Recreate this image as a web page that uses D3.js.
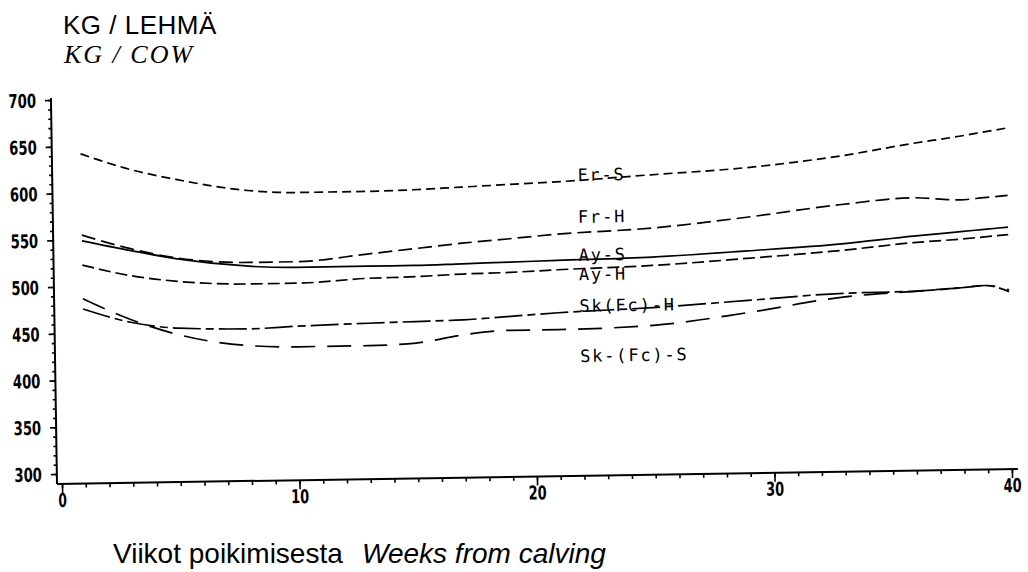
<!DOCTYPE html>
<html><head><meta charset="utf-8">
<script src="https://cdn.jsdelivr.net/npm/d3@7"></script>
<style>body{margin:0;background:#fff} svg{display:block}</style>
</head><body>
<svg id="c" width="1028" height="572"></svg>
<script>
// ---- data ----
const weeks = [1,3,5,8,10,13,15,17,19,21,25,29,33,36,38,39,40];
const frS = [642,625,613,600,597,597,598,600,602,604,610,616,627,639,646,650,654];
const frH = [555,540,529,523,523,530,535,540,544,548,553,563,575,581,578,580,582];
const ayS = [549,538,528,519,517,517,517,518,519,520,522,527,533,540,544,546,548];
const ayH = [523,511,504,500,500,504,505,507,508,510,513,519,526,533,536,538,540];
const skH = [476,461,454,452,454,456,457,458,461,464,468,474,480,481,484,486,479];
const skS = [487,464,447,434,432,432,434,442,446,446,449,461,476,481,484,486,481];
const seriesNames = ["Fr-S","Fr-H","Ay-S","Ay-H","Sk(Fc)-H","Sk-(Fc)-S"];
const yTickValues = [300,350,400,450,500,550,600,650,700];
const xTickValues = [0,10,20,30,40];
const labelWeek = 21.9;
const labelValues = [604.7,559.8,519.1,498.3,464.6,411.1];

// ---- layout / style ----
const series = [frS,frH,ayS,ayH,skH,skS];
const dashes = ["9,5","14,6",null,"12,5","28,5,8,5","24,12"];
const axisX0 = 57, axisY0 = 484;

const svg = d3.select("#c");
const x = d3.scaleLinear().domain([0,40]).range([62,1012]);
const y = d3.scaleLinear().domain([300,700]).range([474,100]);

const g = svg.append("g").attr("transform", `rotate(-0.9,${axisX0},${axisY0})`);

// axis lines
g.append("line").attr("x1",axisX0).attr("x2",axisX0).attr("y1",y(700)-2).attr("y2",axisY0)
  .attr("stroke","#000").attr("stroke-width",2);
g.append("line").attr("x1",axisX0).attr("x2",1018).attr("y1",axisY0).attr("y2",axisY0)
  .attr("stroke","#000").attr("stroke-width",2);

const tickFont = (sel) => sel.attr("font-family","'DejaVu Sans Condensed','DejaVu Sans',sans-serif")
  .attr("font-weight","bold").attr("font-size",19).attr("fill","#000")
  .attr("lengthAdjust","spacingAndGlyphs")
  .attr("textLength", function(){ return this.textContent.length * 9.5 - 1; });

// y axis minor + major
const yMinor = g.append("g").attr("transform",`translate(${axisX0},0)`)
  .call(d3.axisLeft(y).tickValues(d3.range(300,701,10)).tickSize(3).tickFormat(""));
const yMajor = g.append("g").attr("transform",`translate(${axisX0},0)`)
  .call(d3.axisLeft(y).tickValues(yTickValues).tickSize(6).tickPadding(9));
[yMinor,yMajor].forEach(a=>{a.select(".domain").remove(); a.selectAll("line").attr("stroke","#000").attr("stroke-width",1.6);});
yMajor.selectAll("text").call(tickFont).attr("dy","0.36em");

// x axis minor + major
const xMinor = g.append("g").attr("transform",`translate(0,${axisY0})`)
  .call(d3.axisBottom(x).tickValues(d3.range(0,41,1)).tickSize(4).tickFormat(""));
const xMajor = g.append("g").attr("transform",`translate(0,${axisY0})`)
  .call(d3.axisBottom(x).tickValues(xTickValues).tickSize(9).tickFormat(d3.format("d")));
[xMinor,xMajor].forEach(a=>{a.select(".domain").remove(); a.selectAll("line").attr("stroke","#000").attr("stroke-width",1.6);});
xMajor.selectAll("text").call(tickFont).attr("y",23).attr("dy",0);

// lines
const line = d3.line().x((d,i)=>x(weeks[i])).y(d=>y(d)).curve(d3.curveMonotoneX);
series.forEach((s,i)=>{
  g.append("path").datum(s).attr("d",line).attr("fill","none")
    .attr("stroke","#000").attr("stroke-width",1.7)
    .attr("stroke-dasharray",dashes[i]);
});

// series labels
seriesNames.forEach((n,i)=>{
  g.append("text").attr("x",x(labelWeek)).attr("y",y(labelValues[i]))
    .attr("font-family","'DejaVu Sans Mono',monospace").attr("font-size",17)
    .attr("letter-spacing","1.8px").attr("fill","#000").text(n);
});

// titles
svg.append("text").attr("x",63).attr("y",34)
  .attr("font-family","'Liberation Sans',Arial,sans-serif").attr("font-size",26)
  .attr("letter-spacing","0.5px").attr("fill","#000").text("KG / LEHMÄ");
svg.append("text").attr("x",64).attr("y",63)
  .attr("font-family","'Liberation Serif','Times New Roman',serif").attr("font-style","italic")
  .attr("font-size",26).attr("letter-spacing","2px").attr("fill","#000").text("KG / COW");

svg.append("text").attr("x",113).attr("y",563)
  .attr("font-family","'Liberation Sans',Arial,sans-serif").attr("font-size",28)
  .attr("fill","#000").text("Viikot poikimisesta");
svg.append("text").attr("x",362).attr("y",563)
  .attr("font-family","'Liberation Sans',Arial,sans-serif").attr("font-size",28)
  .attr("font-style","italic").attr("fill","#000").text("Weeks from calving");
</script>
</body></html>
